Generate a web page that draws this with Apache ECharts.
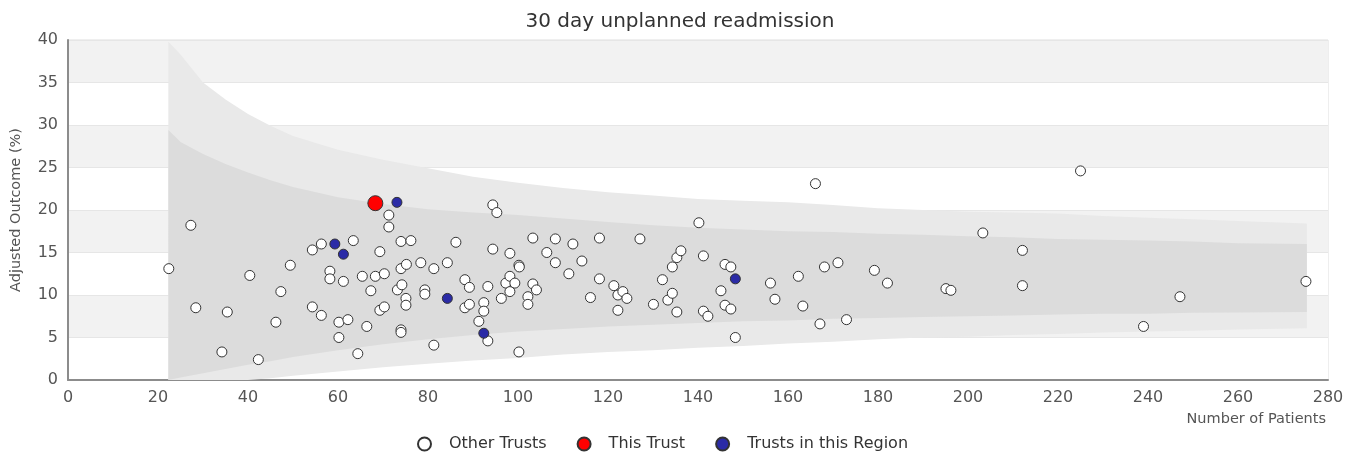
<!DOCTYPE html>
<html>
<head>
<meta charset="utf-8">
<title>30 day unplanned readmission</title>
<script src="https://cdn.jsdelivr.net/npm/echarts@6/dist/echarts.min.js"></script>
<style>
  html, body { margin: 0; padding: 0; background: #fff; }
  #chart { width: 1360px; height: 459px; }
</style>
</head>
<body>
<div id="chart"></div>
<script>
const xTicks = [0, 20, 40, 60, 80, 100, 120, 140, 160, 180, 200, 220, 240, 260, 280]
const yTicks = [0, 5, 10, 15, 20, 25, 30, 35, 40]

// funnel limits
const funnelX = [22.3, 25, 30, 35, 40, 45, 50, 60, 70, 80, 90, 100, 110, 120, 130, 140, 150, 160, 170, 180, 190, 200, 210, 220, 230, 240, 250, 260, 275.3]
const outerUpper = [39.8, 38.3, 35.0, 33.0, 31.3, 29.9, 28.7, 27.1, 25.9, 24.9, 23.9, 23.2, 22.6, 22.1, 21.7, 21.3, 21.1, 20.9, 20.6, 20.2, 20.0, 19.8, 19.7, 19.6, 19.3, 19.1, 18.9, 18.7, 18.4]
const innerUpper = [29.4, 28.0, 26.6, 25.4, 24.4, 23.5, 22.7, 21.5, 20.7, 20.1, 19.7, 19.4, 19.0, 18.6, 18.2, 17.9, 17.7, 17.5, 17.4, 17.2, 17.1, 16.9, 16.8, 16.6, 16.5, 16.4, 16.3, 16.1, 16.0]
const innerLower = [0, 0.3, 0.8, 1.3, 1.8, 2.2, 2.7, 3.5, 4.2, 4.8, 5.3, 5.7, 6.0, 6.3, 6.5, 6.7, 6.9, 7.0, 7.2, 7.3, 7.4, 7.5, 7.6, 7.7, 7.8, 7.8, 7.9, 7.95, 8.0]
const outerLower = [0, 0, 0, 0, 0, 0.2, 0.5, 1.0, 1.5, 1.9, 2.3, 2.6, 3.0, 3.3, 3.5, 3.8, 4.0, 4.3, 4.5, 4.8, 5.0, 5.1, 5.3, 5.4, 5.6, 5.7, 5.8, 5.95, 6.1]

const otherX = [22.4, 27.3, 28.4, 34.2, 35.4, 40.4, 42.3, 46.2, 47.3, 49.4, 54.3, 54.3, 56.3, 56.3, 58.2, 58.2, 60.2, 60.2, 61.2, 62.2, 63.4, 64.4, 65.4, 66.4, 67.3, 68.3, 69.3, 69.3, 70.3, 70.3, 71.3, 71.3, 73.2, 74.2, 74.0, 75.2, 74.0, 76.2, 75.1, 75.1, 74.0, 74.0, 78.4, 79.3, 79.3, 81.3, 81.3, 84.3, 86.2, 88.2, 89.2, 88.2, 89.2, 91.3, 92.4, 92.4, 93.3, 93.3, 94.4, 95.3, 94.4, 96.3, 97.3, 98.2, 98.2, 98.2, 99.3, 100.2, 100.3, 100.2, 102.2, 102.2, 103.3, 103.3, 104.1, 106.4, 108.3, 108.3, 111.3, 112.2, 114.2, 116.1, 118.1, 118.1, 121.3, 122.2, 122.2, 123.3, 124.2, 127.1, 130.1, 132.1, 133.3, 134.3, 134.3, 135.3, 135.3, 136.2, 140.2, 141.2, 141.2, 142.2, 145.1, 146.0, 146.0, 147.3, 147.3, 148.3, 156.1, 157.1, 162.3, 163.3, 166.1, 167.1, 168.1, 171.1, 173.0, 179.2, 182.1, 195.1, 196.2, 203.3, 212.1, 212.1, 225.0, 239.0, 247.1, 275.1]
const otherY = [13.1, 18.2, 8.5, 3.3, 8.0, 12.3, 2.4, 6.8, 10.4, 13.5, 15.3, 8.6, 16.0, 7.6, 12.8, 11.9, 6.8, 5.0, 11.6, 7.1, 16.4, 3.1, 12.2, 6.3, 10.5, 12.2, 15.1, 8.2, 12.5, 8.6, 19.4, 18.0, 10.6, 11.2, 13.1, 13.6, 16.3, 16.4, 9.6, 8.8, 5.9, 5.6, 13.8, 10.6, 10.1, 13.1, 4.1, 13.8, 16.2, 11.8, 10.9, 8.5, 8.9, 6.9, 9.1, 8.1, 11.0, 4.6, 20.6, 19.7, 15.4, 9.6, 11.4, 14.9, 12.2, 10.4, 11.4, 13.5, 13.3, 3.3, 9.8, 8.9, 11.3, 16.7, 10.6, 15.0, 16.6, 13.8, 12.5, 16.0, 14.0, 9.7, 16.7, 11.9, 11.1, 10.0, 8.2, 10.4, 9.6, 16.6, 8.9, 11.8, 9.4, 10.2, 13.3, 14.4, 8.0, 15.2, 18.5, 14.6, 8.1, 7.5, 10.5, 13.6, 8.8, 13.3, 8.35, 5.0, 11.4, 9.5, 12.2, 8.7, 23.1, 6.6, 13.3, 13.8, 7.1, 12.9, 11.4, 10.75, 10.55, 17.3, 15.25, 11.1, 24.6, 6.3, 9.8, 11.6]

const thisX = [68.3]
const thisY = [20.8]

const regionX = [59.3, 61.2, 73.1, 84.3, 92.4, 148.3]
const regionY = [16.0, 14.8, 20.9, 9.6, 5.5, 11.9]

const pairs = (xs, ys) => xs.map((x, i) => [x, ys[i]])

function band(upper, lower, color) {
  return {
    type: 'custom',
    silent: true,
    z: 1,
    clip: true,
    data: [[funnelX[0], 0]],
    renderItem: (params, api) => {
      const top = funnelX.map((x, i) => api.coord([x, upper[i]]))
      const bottom = funnelX.map((x, i) => api.coord([x, lower[i]])).reverse()
      return {
        type: 'polygon',
        shape: { points: top.concat(bottom) },
        style: { fill: color },
      }
    },
  }
}

const chart = echarts.init(document.getElementById('chart'))
chart.setOption({
  animation: false,
  textStyle: { fontFamily: 'DejaVu Sans' },
  title: {
    text: '30 day unplanned readmission',
    left: 'center',
    top: 7,
    textStyle: { fontSize: 20, fontWeight: 'normal', color: '#333' },
  },
  legend: {
    left: 412,
    top: 431,
    itemWidth: 13,
    itemHeight: 13,
    itemGap: 30,
    textStyle: { fontSize: 16, color: '#333', padding: [0, 0, 0, 13] },
    data: [
      { name: 'Other Trusts', icon: 'circle' },
      { name: 'This Trust', icon: 'circle' },
      { name: 'Trusts in this Region', icon: 'circle' },
    ],
  },
  grid: {
    left: 68, right: 32, top: 40, bottom: 79,
    show: true, borderColor: '#dedede', borderWidth: 1,
  },
  xAxis: {
    type: 'value',
    min: xTicks[0],
    max: xTicks[xTicks.length - 1],
    interval: 20,
    name: 'Number of Patients',
    nameLocation: 'end',
    nameGap: -2,
    nameTextStyle: { fontSize: 14.5, color: '#555', align: 'right', verticalAlign: 'top', padding: [32, 0, 0, 0] },
    axisLine: { lineStyle: { color: '#8c8c8c', width: 2 } },
    axisTick: { show: false },
    axisLabel: { fontSize: 16, color: '#555', margin: 10 },
    splitLine: { show: false },
  },
  yAxis: {
    type: 'value',
    min: yTicks[0],
    max: yTicks[yTicks.length - 1],
    interval: 5,
    name: 'Adjusted Outcome (%)',
    nameLocation: 'middle',
    nameGap: 44,
    nameTextStyle: { fontSize: 14.5, color: '#555' },
    axisLine: { show: true, lineStyle: { color: '#8c8c8c', width: 2 } },
    axisTick: { show: false },
    axisLabel: { fontSize: 16, color: '#555', margin: 10 },
    splitLine: { show: true, lineStyle: { color: '#e6e6e6' } },
    splitArea: { show: true, areaStyle: { color: ['#ffffff', '#f2f2f2'] } },
  },
  series: [
    band(outerUpper, outerLower, '#e9e9e9'),
    band(innerUpper, innerLower, '#dcdcdc'),
    {
      name: 'Other Trusts',
      type: 'scatter',
      z: 3,
      symbolSize: 10,
      data: pairs(otherX, otherY),
      itemStyle: { color: '#ffffff', borderColor: '#333', borderWidth: 1, opacity: 1 },
    },
    {
      name: 'This Trust',
      type: 'scatter',
      z: 4,
      symbolSize: 15,
      data: pairs(thisX, thisY),
      itemStyle: { color: '#ff0000', borderColor: '#333', borderWidth: 1, opacity: 1 },
    },
    {
      name: 'Trusts in this Region',
      type: 'scatter',
      z: 4,
      symbolSize: 10,
      data: pairs(regionX, regionY),
      itemStyle: { color: '#2b2ba6', borderColor: '#333', borderWidth: 1, opacity: 1 },
    },
  ],
})
</script>
</body>
</html>
